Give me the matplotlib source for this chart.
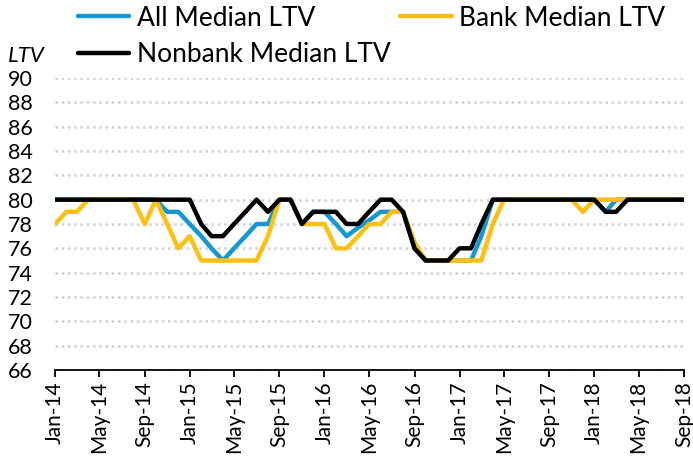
import matplotlib
matplotlib.use("Agg")
import matplotlib.pyplot as plt
import matplotlib.dates as mdates
import pandas as pd

plt.rcParams['font.family'] = ['Lato', 'DejaVu Sans']

months = pd.date_range('2014-01-01', '2018-09-01', freq='MS')

all_ltv = [80, 80, 80, 80, 80, 80, 80, 80, 80, 80,
           79, 79, 78, 77, 76, 75, 76, 77, 78, 78,
           80, 80, 78, 79, 79, 78, 77, 77.7, 78.3, 79,
           79, 79, 76, 75, 75, 75, 75, 75, 77, 80,
           80, 80, 80, 80, 80, 80, 80, 80, 80, 79,
           80, 80, 80, 80, 80, 80, 80]
bank_ltv = [78, 79, 79, 80, 80, 80, 80, 80, 78, 80,
            78, 76, 77, 75, 75, 75, 75, 75, 75, 77,
            80, 80, 78, 78, 78, 76, 76, 77, 78, 78,
            79, 79, 76.5, 75, 75, 75, 75, 75, 75, 78,
            80, 80, 80, 80, 80, 80, 80, 79, 80, 80,
            80, 80, 80, 80, 80, 80, 80]
nonbank_ltv = [80, 80, 80, 80, 80, 80, 80, 80, 80, 80,
               80, 80, 80, 78, 77, 77, 78, 79, 80, 79,
               80, 80, 78, 79, 79, 79, 78, 78, 79, 80,
               80, 79, 76, 75, 75, 75, 76, 76, 78, 80,
               80, 80, 80, 80, 80, 80, 80, 80, 80, 79,
               79, 80, 80, 80, 80, 80, 80]

series_names = ['All Median LTV', 'Bank Median LTV', 'Nonbank Median LTV']
colors = ['#1696d2', '#fdbf11', '#000000']

fig = plt.figure(figsize=(6.93, 4.63), dpi=100)
ax = fig.add_axes([0.0794, 0.2009, 0.9076, 0.6306])

lines = []
for vals, name, c in zip([all_ltv, bank_ltv, nonbank_ltv], series_names, colors):
    ln, = ax.plot(months, vals, color=c, lw=3.2, label=name,
                  solid_joinstyle='round', solid_capstyle='round')
    lines.append(ln)

ax.set_ylim(66, 90)
ax.set_yticks(range(66, 91, 2))
ax.set_xlim(months[0], months[-1])
ax.set_xticks(months[::4])
ax.xaxis.set_major_formatter(mdates.DateFormatter('%b-%y'))
ax.tick_params(axis='x', rotation=90, labelsize=15, length=5, width=1.3,
               direction='out', pad=3)
ax.tick_params(axis='y', labelsize=15.5, length=0, pad=16)

ax.grid(axis='y', color='#d0d0d0', linestyle=(0, (1, 1.5)), lw=1.8)
ax.set_axisbelow(True)
for s in ['left', 'right', 'top']:
    ax.spines[s].set_visible(False)
ax.spines['bottom'].set_linewidth(1.3)

fig.text(0.011, 0.878, 'LTV', fontsize=16, style='italic', ha='left', va='center')

fig.legend([lines[0], lines[2], lines[1]],
           [series_names[0], series_names[2], series_names[1]],
           ncol=2, loc='upper left', bbox_to_anchor=(0.1126, 0.988),
           frameon=False, fontsize=19, handlelength=1.95, handletextpad=0.27,
           columnspacing=0.38, labelspacing=0.45, borderaxespad=0, borderpad=0)

fig.savefig('out.png', dpi=100)
